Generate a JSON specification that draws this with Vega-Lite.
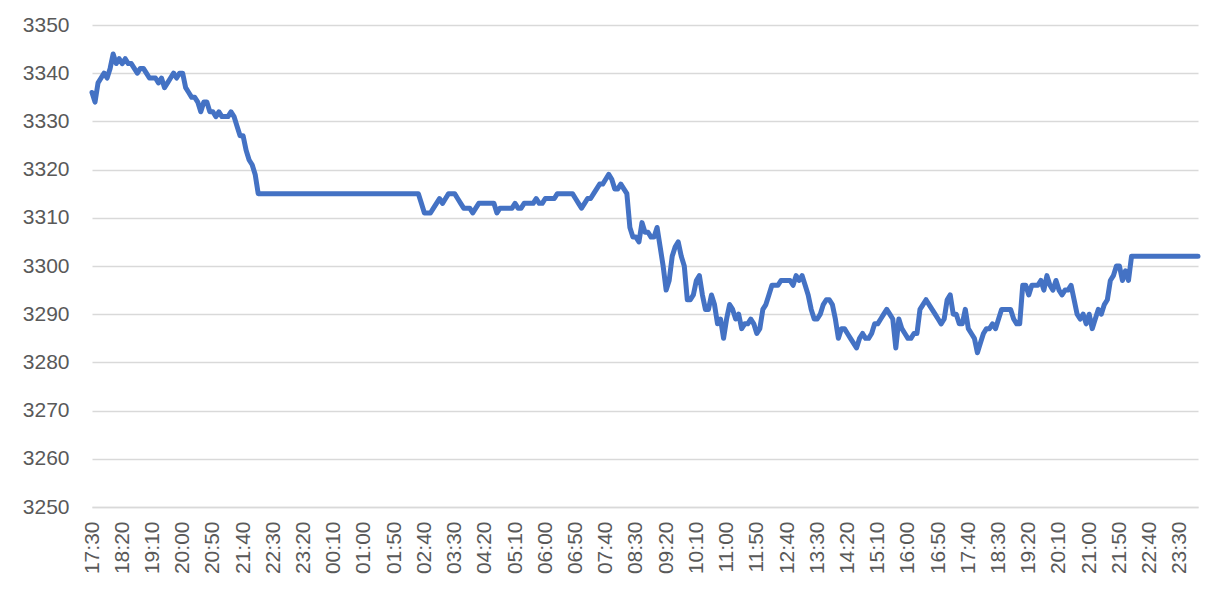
{
"$schema": "https://vega.github.io/schema/vega-lite/v6.json",
"width": 1106, "height": 482,
"autosize": {"type": "none"},
"padding": {"left": 92, "top": 25, "right": 19, "bottom": 85},
"background": "white",
"config": {"view": {"stroke": null}, "axis": {"labelFont": "Liberation Sans", "labelFontSize": 21, "labelColor": "#595959"}},
"data": {"values": [
{"min":0,"v":3336},{"min":5,"v":3334},{"min":10,"v":3338},{"min":15,"v":3339},{"min":20,"v":3340},{"min":25,"v":3339},{"min":30,"v":3341},{"min":35,"v":3344},{"min":40,"v":3342},{"min":45,"v":3343},
{"min":50,"v":3342},{"min":55,"v":3343},{"min":60,"v":3342},{"min":65,"v":3342},{"min":70,"v":3341},{"min":75,"v":3340},{"min":80,"v":3341},{"min":85,"v":3341},{"min":90,"v":3340},{"min":95,"v":3339},
{"min":100,"v":3339},{"min":105,"v":3339},{"min":110,"v":3338},{"min":115,"v":3339},{"min":120,"v":3337},{"min":125,"v":3338},{"min":130,"v":3339},{"min":135,"v":3340},{"min":140,"v":3339},{"min":145,"v":3340},
{"min":150,"v":3340},{"min":155,"v":3337},{"min":160,"v":3336},{"min":165,"v":3335},{"min":170,"v":3335},{"min":175,"v":3334},{"min":180,"v":3332},{"min":185,"v":3334},{"min":190,"v":3334},{"min":195,"v":3332},
{"min":200,"v":3332},{"min":205,"v":3331},{"min":210,"v":3332},{"min":215,"v":3331},{"min":220,"v":3331},{"min":225,"v":3331},{"min":230,"v":3332},{"min":235,"v":3331},{"min":240,"v":3329},{"min":245,"v":3327},
{"min":250,"v":3327},{"min":255,"v":3324},{"min":260,"v":3322},{"min":265,"v":3321},{"min":270,"v":3319},{"min":275,"v":3315},{"min":280,"v":3315},{"min":285,"v":3315},{"min":290,"v":3315},{"min":295,"v":3315},
{"min":300,"v":3315},{"min":305,"v":3315},{"min":310,"v":3315},{"min":315,"v":3315},{"min":320,"v":3315},{"min":325,"v":3315},{"min":330,"v":3315},{"min":335,"v":3315},{"min":340,"v":3315},{"min":345,"v":3315},
{"min":350,"v":3315},{"min":355,"v":3315},{"min":360,"v":3315},{"min":365,"v":3315},{"min":370,"v":3315},{"min":375,"v":3315},{"min":380,"v":3315},{"min":385,"v":3315},{"min":390,"v":3315},{"min":395,"v":3315},
{"min":400,"v":3315},{"min":405,"v":3315},{"min":410,"v":3315},{"min":415,"v":3315},{"min":420,"v":3315},{"min":425,"v":3315},{"min":430,"v":3315},{"min":435,"v":3315},{"min":440,"v":3315},{"min":445,"v":3315},
{"min":450,"v":3315},{"min":455,"v":3315},{"min":460,"v":3315},{"min":465,"v":3315},{"min":470,"v":3315},{"min":475,"v":3315},{"min":480,"v":3315},{"min":485,"v":3315},{"min":490,"v":3315},{"min":495,"v":3315},
{"min":500,"v":3315},{"min":505,"v":3315},{"min":510,"v":3315},{"min":515,"v":3315},{"min":520,"v":3315},{"min":525,"v":3315},{"min":530,"v":3315},{"min":535,"v":3315},{"min":540,"v":3315},{"min":545,"v":3313},
{"min":550,"v":3311},{"min":555,"v":3311},{"min":560,"v":3311},{"min":565,"v":3312},{"min":570,"v":3313},{"min":575,"v":3314},{"min":580,"v":3313},{"min":585,"v":3314},{"min":590,"v":3315},{"min":595,"v":3315},
{"min":600,"v":3315},{"min":605,"v":3314},{"min":610,"v":3313},{"min":615,"v":3312},{"min":620,"v":3312},{"min":625,"v":3312},{"min":630,"v":3311},{"min":635,"v":3312},{"min":640,"v":3313},{"min":645,"v":3313},
{"min":650,"v":3313},{"min":655,"v":3313},{"min":660,"v":3313},{"min":665,"v":3313},{"min":670,"v":3311},{"min":675,"v":3312},{"min":680,"v":3312},{"min":685,"v":3312},{"min":690,"v":3312},{"min":695,"v":3312},
{"min":700,"v":3313},{"min":705,"v":3312},{"min":710,"v":3312},{"min":715,"v":3313},{"min":720,"v":3313},{"min":725,"v":3313},{"min":730,"v":3313},{"min":735,"v":3314},{"min":740,"v":3313},{"min":745,"v":3313},
{"min":750,"v":3314},{"min":755,"v":3314},{"min":760,"v":3314},{"min":765,"v":3314},{"min":770,"v":3315},{"min":775,"v":3315},{"min":780,"v":3315},{"min":785,"v":3315},{"min":790,"v":3315},{"min":795,"v":3315},
{"min":800,"v":3314},{"min":805,"v":3313},{"min":810,"v":3312},{"min":815,"v":3313},{"min":820,"v":3314},{"min":825,"v":3314},{"min":830,"v":3315},{"min":835,"v":3316},{"min":840,"v":3317},{"min":845,"v":3317},
{"min":850,"v":3318},{"min":855,"v":3319},{"min":860,"v":3318},{"min":865,"v":3316},{"min":870,"v":3316},{"min":875,"v":3317},{"min":880,"v":3316},{"min":885,"v":3315},{"min":890,"v":3308},{"min":895,"v":3306},
{"min":900,"v":3306},{"min":905,"v":3305},{"min":910,"v":3309},{"min":915,"v":3307},{"min":920,"v":3307},{"min":925,"v":3306},{"min":930,"v":3306},{"min":935,"v":3308},{"min":940,"v":3304},{"min":945,"v":3300},
{"min":950,"v":3295},{"min":955,"v":3297},{"min":960,"v":3302},{"min":965,"v":3304},{"min":970,"v":3305},{"min":975,"v":3302},{"min":980,"v":3300},{"min":985,"v":3293},{"min":990,"v":3293},{"min":995,"v":3294},
{"min":1000,"v":3297},{"min":1005,"v":3298},{"min":1010,"v":3294},{"min":1015,"v":3291},{"min":1020,"v":3291},{"min":1025,"v":3294},{"min":1030,"v":3292},{"min":1035,"v":3288},{"min":1040,"v":3289},{"min":1045,"v":3285},
{"min":1050,"v":3289},{"min":1055,"v":3292},{"min":1060,"v":3291},{"min":1065,"v":3289},{"min":1070,"v":3290},{"min":1075,"v":3287},{"min":1080,"v":3288},{"min":1085,"v":3288},{"min":1090,"v":3289},{"min":1095,"v":3288},
{"min":1100,"v":3286},{"min":1105,"v":3287},{"min":1110,"v":3291},{"min":1115,"v":3292},{"min":1120,"v":3294},{"min":1125,"v":3296},{"min":1130,"v":3296},{"min":1135,"v":3296},{"min":1140,"v":3297},{"min":1145,"v":3297},
{"min":1150,"v":3297},{"min":1155,"v":3297},{"min":1160,"v":3296},{"min":1165,"v":3298},{"min":1170,"v":3297},{"min":1175,"v":3298},{"min":1180,"v":3296},{"min":1185,"v":3294},{"min":1190,"v":3291},{"min":1195,"v":3289},
{"min":1200,"v":3289},{"min":1205,"v":3290},{"min":1210,"v":3292},{"min":1215,"v":3293},{"min":1220,"v":3293},{"min":1225,"v":3292},{"min":1230,"v":3289},{"min":1235,"v":3285},{"min":1240,"v":3287},{"min":1245,"v":3287},
{"min":1250,"v":3286},{"min":1255,"v":3285},{"min":1260,"v":3284},{"min":1265,"v":3283},{"min":1270,"v":3285},{"min":1275,"v":3286},{"min":1280,"v":3285},{"min":1285,"v":3285},{"min":1290,"v":3286},{"min":1295,"v":3288},
{"min":1300,"v":3288},{"min":1305,"v":3289},{"min":1310,"v":3290},{"min":1315,"v":3291},{"min":1320,"v":3290},{"min":1325,"v":3289},{"min":1330,"v":3283},{"min":1335,"v":3289},{"min":1340,"v":3287},{"min":1345,"v":3286},
{"min":1350,"v":3285},{"min":1355,"v":3285},{"min":1360,"v":3286},{"min":1365,"v":3286},{"min":1370,"v":3291},{"min":1375,"v":3292},{"min":1380,"v":3293},{"min":1385,"v":3292},{"min":1390,"v":3291},{"min":1395,"v":3290},
{"min":1400,"v":3289},{"min":1405,"v":3288},{"min":1410,"v":3289},{"min":1415,"v":3293},{"min":1420,"v":3294},{"min":1425,"v":3290},{"min":1430,"v":3290},{"min":1435,"v":3288},{"min":1440,"v":3288},{"min":1445,"v":3291},
{"min":1450,"v":3287},{"min":1455,"v":3286},{"min":1460,"v":3285},{"min":1465,"v":3282},{"min":1470,"v":3284},{"min":1475,"v":3286},{"min":1480,"v":3287},{"min":1485,"v":3287},{"min":1490,"v":3288},{"min":1495,"v":3287},
{"min":1500,"v":3289},{"min":1505,"v":3291},{"min":1510,"v":3291},{"min":1515,"v":3291},{"min":1520,"v":3291},{"min":1525,"v":3289},{"min":1530,"v":3288},{"min":1535,"v":3288},{"min":1540,"v":3296},{"min":1545,"v":3296},
{"min":1550,"v":3294},{"min":1555,"v":3296},{"min":1560,"v":3296},{"min":1565,"v":3296},{"min":1570,"v":3297},{"min":1575,"v":3295},{"min":1580,"v":3298},{"min":1585,"v":3296},{"min":1590,"v":3295},{"min":1595,"v":3297},
{"min":1600,"v":3295},{"min":1605,"v":3294},{"min":1610,"v":3295},{"min":1615,"v":3295},{"min":1620,"v":3296},{"min":1625,"v":3293},{"min":1630,"v":3290},{"min":1635,"v":3289},{"min":1640,"v":3290},{"min":1645,"v":3288},
{"min":1650,"v":3290},{"min":1655,"v":3287},{"min":1660,"v":3289},{"min":1665,"v":3291},{"min":1670,"v":3290},{"min":1675,"v":3292},{"min":1680,"v":3293},{"min":1685,"v":3297},{"min":1690,"v":3298},{"min":1695,"v":3300},
{"min":1700,"v":3300},{"min":1705,"v":3297},{"min":1710,"v":3299},{"min":1715,"v":3297},{"min":1720,"v":3302},{"min":1725,"v":3302},{"min":1730,"v":3302},{"min":1735,"v":3302},{"min":1740,"v":3302},{"min":1745,"v":3302},
{"min":1750,"v":3302},{"min":1755,"v":3302},{"min":1760,"v":3302},{"min":1765,"v":3302},{"min":1770,"v":3302},{"min":1775,"v":3302},{"min":1780,"v":3302},{"min":1785,"v":3302},{"min":1790,"v":3302},{"min":1795,"v":3302},
{"min":1800,"v":3302},{"min":1805,"v":3302},{"min":1810,"v":3302},{"min":1815,"v":3302},{"min":1820,"v":3302},{"min":1825,"v":3302},{"min":1830,"v":3302}
]},
"mark": {"type": "line", "color": "#4472c4", "strokeWidth": 5, "strokeJoin": "round", "strokeCap": "round"},
"encoding": {
"x": {"field": "min", "type": "quantitative", "scale": {"domain": [0, 1830], "nice": false, "zero": false},
 "axis": {"values": [0,50,100,150,200,250,300,350,400,450,500,550,600,650,700,750,800,850,900,950,1000,1050,1100,1150,1200,1250,1300,1350,1400,1450,1500,1550,1600,1650,1700,1750,1800],
  "labelExpr": "timeFormat(datetime(2024, 0, 1, 17, 30 + datum.value), '%H:%M')",
  "labelAngle": -90, "grid": false, "ticks": false, "tickSize": 0, "labelPadding": 14, "domainColor": "#d9d9d9", "domainWidth": 1.5, "title": null, "labelFlush": false, "labelOverlap": false}},
"y": {"field": "v", "type": "quantitative", "scale": {"domain": [3250, 3350], "nice": false, "zero": false},
 "axis": {"values": [3250,3260,3270,3280,3290,3300,3310,3320,3330,3340,3350], "format": "d", "grid": true, "gridColor": "#d9d9d9", "gridWidth": 1.5, "domain": false, "ticks": false, "tickSize": 0, "labelPadding": 23, "title": null, "labelFlush": false, "labelOverlap": false}}
}
}
